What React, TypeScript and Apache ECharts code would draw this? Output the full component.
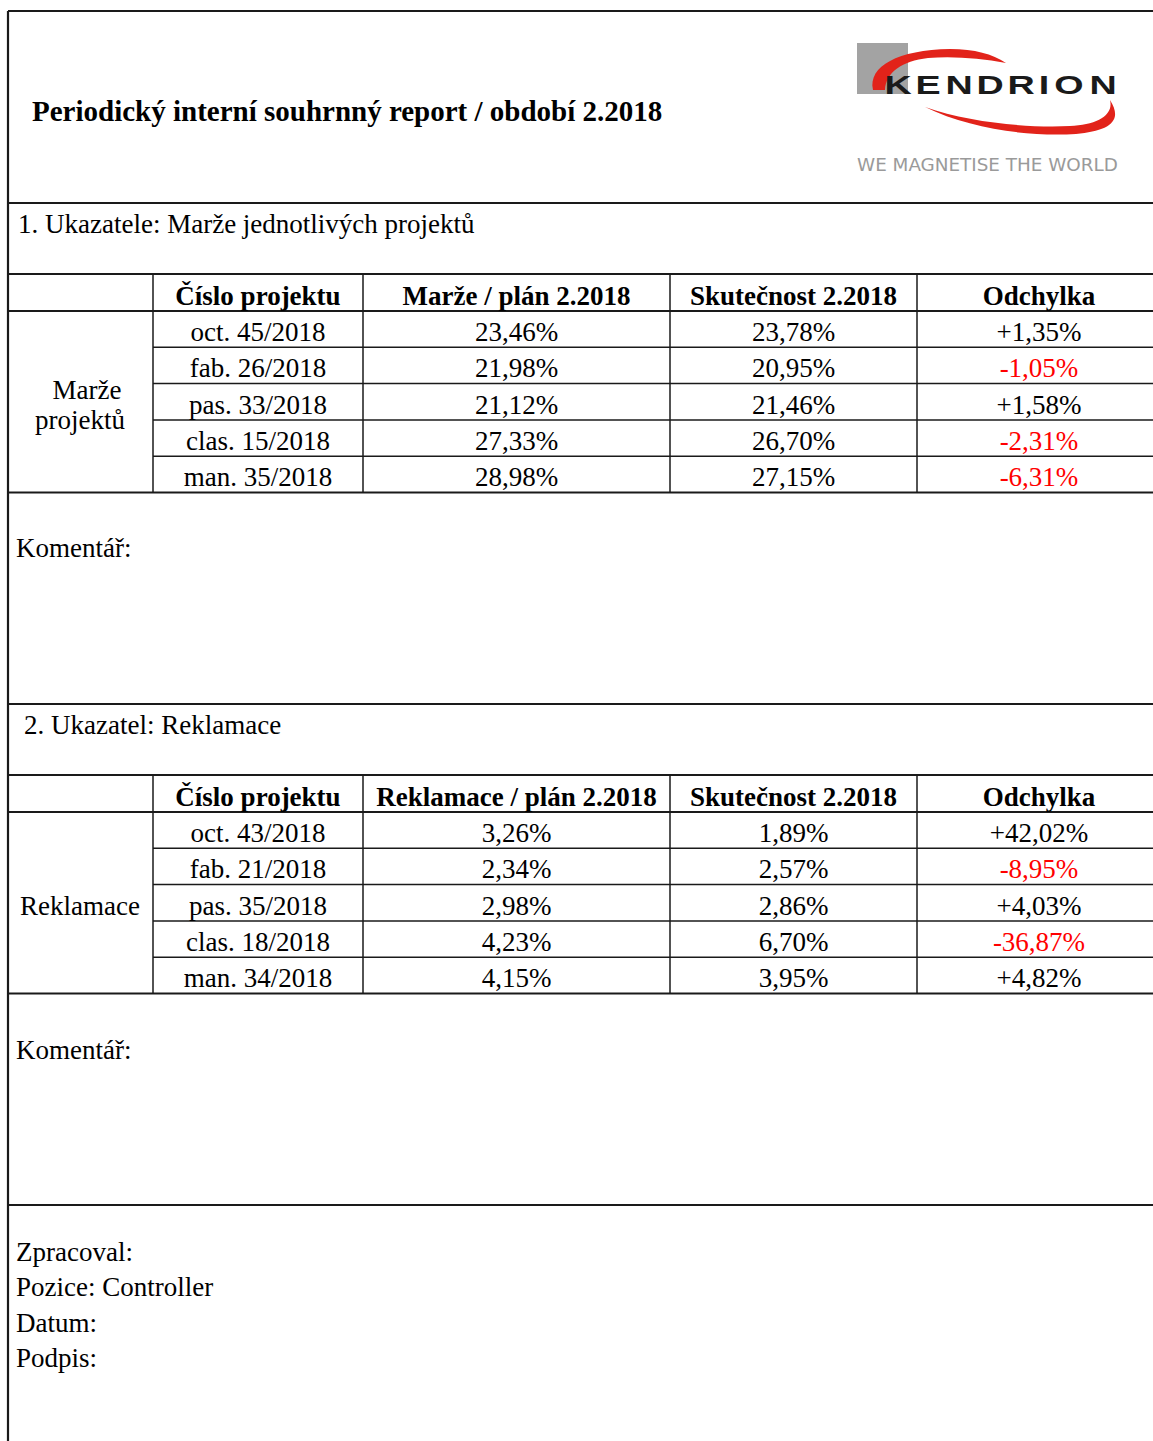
import React, { useEffect, useRef } from "react";
import * as echarts from "echarts";

const titleText = "Periodický interní souhrnný report / období 2.2018";
const section1Title = "1. Ukazatele: Marže jednotlivých projektů";
const section2Title = "2. Ukazatel: Reklamace";
const header1 = ["Číslo projektu", "Marže / plán 2.2018", "Skutečnost 2.2018", "Odchylka"];
const header2 = ["Číslo projektu", "Reklamace / plán 2.2018", "Skutečnost 2.2018", "Odchylka"];
const group1Label = ["Marže", "projektů"];
const group2Label = ["Reklamace"];

const projects1 = ["oct. 45/2018", "fab. 26/2018", "pas. 33/2018", "clas. 15/2018", "man. 35/2018"];
const plan1 = [23.46, 21.98, 21.12, 27.33, 28.98];
const actual1 = [23.78, 20.95, 21.46, 26.7, 27.15];
const dev1 = [1.35, -1.05, 1.58, -2.31, -6.31];

const projects2 = ["oct. 43/2018", "fab. 21/2018", "pas. 35/2018", "clas. 18/2018", "man. 34/2018"];
const plan2 = [3.26, 2.34, 2.98, 4.23, 4.15];
const actual2 = [1.89, 2.57, 2.86, 6.7, 3.95];
const dev2 = [42.02, -8.95, 4.03, -36.87, 4.82];

const commentLabel = "Komentář:";
const footerLines = ["Zpracoval:", "Pozice: Controller", "Datum:", "Podpis:"];
const logoWord = "KENDRION";
const logoTagline = "WE MAGNETISE THE WORLD";

const SERIF = "'Liberation Serif', 'Times New Roman', serif";
const W = 1153;
const H = 1441;
const colX = [8, 153, 363, 670, 917, W];
const BASE = 27;

const fmt = (v: number) => v.toFixed(2).replace(".", ",") + "%";
const fmtDev = (v: number) => (v >= 0 ? "+" : "") + fmt(v);

const topSwoosh =
  "M33,60 C28,36 58,20 110,19 C135,19 152,24 166,33 C140,28 112,26 88,28 C62,31 46,42 45,60 Z";
const bottomSwoosh =
  "M85,77 C130,99 190,107 236,104 C268,101 284,92 270,70 C274,86 256,95 230,96 C190,98 130,93 85,77 Z";

echarts.graphic.registerShape("swooshTop", echarts.graphic.extendPath(topSwoosh, {}));
echarts.graphic.registerShape("swooshBottom", echarts.graphic.extendPath(bottomSwoosh, {}));

function txt(text: string, x: number, y: number, opts: any = {}) {
  const align = opts.align || "left";
  return {
    type: "text",
    x: 0,
    y: 0,
    style: {
      text,
      x,
      y,
      fill: opts.fill || "#000",
      fontSize: opts.size || BASE,
      fontFamily: opts.family || SERIF,
      fontWeight: opts.weight || "normal",
      align,
      textAlign: align,
      verticalAlign: "middle",
      textVerticalAlign: "middle",
    },
  };
}

function line(x1: number, y1: number, x2: number, y2: number, w = 1.5) {
  return {
    type: "line",
    shape: { x1, y1, x2, y2 },
    style: { stroke: "#1a1a1a", lineWidth: w },
  };
}

function table(
  top: number,
  header: string[],
  projects: string[],
  plan: number[],
  actual: number[],
  dev: number[],
  groupLabel: string[]
) {
  const els: any[] = [];
  const headerH = 37;
  const rowH = 36.3;
  const bottom = top + headerH + rowH * projects.length;
  els.push(line(8, top, W, top, 1.8));
  els.push(line(8, top + headerH, W, top + headerH, 1.8));
  for (let i = 1; i < projects.length; i++) {
    const y = top + headerH + rowH * i;
    els.push(line(colX[1], y, W, y, 1.5));
  }
  els.push(line(8, bottom, W, bottom, 1.8));
  for (let c = 1; c < 5; c++) els.push(line(colX[c], top, colX[c], bottom, 1.5));
  header.forEach((h, c) => {
    els.push(txt(h, (colX[c + 1] + colX[c + 2]) / 2 + (c === 3 ? 4 : 0), top + headerH / 2 + 3, { weight: "bold", align: "center" }));
  });
  projects.forEach((p, i) => {
    const y = top + headerH + rowH * i + rowH / 2 + 3;
    els.push(txt(p, (colX[1] + colX[2]) / 2, y, { align: "center" }));
    els.push(txt(fmt(plan[i]), (colX[2] + colX[3]) / 2, y, { align: "center" }));
    els.push(txt(fmt(actual[i]), (colX[3] + colX[4]) / 2, y, { align: "center" }));
    els.push(
      txt(fmtDev(dev[i]), (colX[4] + colX[5]) / 2 + 4, y, {
        align: "center",
        fill: dev[i] < 0 ? "#ff0000" : "#000",
      })
    );
  });
  const midY = (top + headerH + bottom) / 2 + 3;
  groupLabel.forEach((g, i) => {
    const off = (i - (groupLabel.length - 1) / 2) * 30;
    els.push(txt(g, i === 0 && groupLabel.length > 1 ? 87 : 80, midY + off, { align: "center" }));
  });
  return els;
}

export default function App() {
  const ref = useRef<HTMLDivElement>(null);
  useEffect(() => {
    document.body.style.margin = "0";
    if (!ref.current) return;
    const chart = echarts.init(ref.current, null, { renderer: "svg" });
    const letterX = [898, 928, 959, 990, 1021, 1044, 1069, 1103];
    const elements: any[] = [
      { type: "rect", shape: { x: 0, y: 0, width: W, height: H }, style: { fill: "#fff" } },
      // frame
      line(8, 11, W, 11, 2.2),
      line(8, 11, 8, H, 2.2),
      line(8, 203, W, 203, 1.8),
      line(8, 704, W, 704, 1.8),
      line(8, 1205, W, 1205, 1.8),
      // logo
      { type: "rect", shape: { x: 857, y: 43, width: 51, height: 51 }, style: { fill: "#a3a3a3" } },
      { type: "swooshTop", x: 840, y: 30, style: { fill: "#e2231a" } },
      { type: "swooshBottom", x: 840, y: 30, style: { fill: "#e2231a" } },
      ...logoWord.split("").map((ch, i) => ({
        type: "text",
        x: letterX[i],
        y: 85,
        scaleX: 1.45,
        style: {
          text: ch,
          x: 0,
          y: 0,
          fill: "#1a1a1a",
          fontSize: 26,
          fontFamily: "'Liberation Sans', Arial, sans-serif",
          fontWeight: "bold",
          align: "center",
          textAlign: "center",
          verticalAlign: "middle",
          textVerticalAlign: "middle",
        },
      })),
      {
        type: "text",
        x: 857,
        y: 165,
        scaleX: 1.2,
        style: {
          text: logoTagline,
          x: 0,
          y: 0,
          fill: "#9a9a9a",
          fontSize: 17,
          fontFamily: "'DejaVu Sans Condensed', 'Liberation Sans', sans-serif",
          align: "left",
          textAlign: "left",
          verticalAlign: "middle",
          textVerticalAlign: "middle",
        },
      },
      // titles
      txt(titleText, 32, 111, { weight: "bold", size: 29 }),
      txt(section1Title, 18, 224),
      ...table(274, header1, projects1, plan1, actual1, dev1, group1Label),
      txt(commentLabel, 16, 548),
      txt(section2Title, 24, 725),
      ...table(775, header2, projects2, plan2, actual2, dev2, group2Label),
      txt(commentLabel, 16, 1050),
      ...footerLines.map((f, i) => txt(f, 16, 1252 + i * 35.3)),
    ];
    chart.setOption({ animation: false, graphic: { elements } });
    return () => chart.dispose();
  }, []);
  return <div ref={ref} style={{ width: W, height: H }} />;
}
